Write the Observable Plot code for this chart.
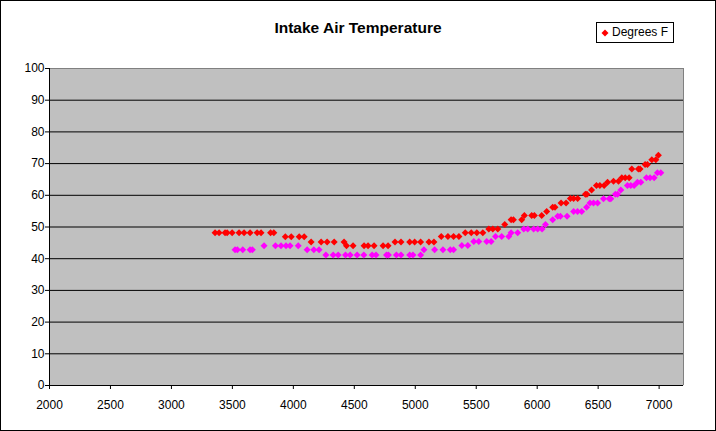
<!DOCTYPE html>
<html><head><meta charset="utf-8">
<script src="https://cdn.jsdelivr.net/npm/d3@7"></script>
<script src="https://cdn.jsdelivr.net/npm/@observablehq/plot@0.6"></script>
<style>
body{margin:0;background:#fff;}
#wrap{position:relative;width:716px;height:431px;font-family:"Liberation Sans",Arial,sans-serif;color:#000;}
#wrap svg{display:block;}
#border{position:absolute;left:0;top:0;width:714px;height:429px;border:1px solid #000;pointer-events:none;}
#title{position:absolute;left:0;width:716px;top:20px;text-align:center;font-weight:bold;font-size:15.5px;line-height:16px;}
#legend{position:absolute;left:596px;top:22px;width:76px;height:19px;border:1px solid #000;background:#fff;font-size:12px;line-height:19px;}
#legend svg{position:absolute;left:4px;top:6px;}
#legend span{position:absolute;left:15px;top:0;}
</style></head>
<body>
<div id="wrap">
  <div id="chart"></div>
  <div id="title">Intake Air Temperature</div>
  <div id="legend"><svg width="8" height="8" viewBox="-4 -4 8 8"><path d="M0,-3.5L3.5,0L0,3.5L-3.5,0Z" fill="#ff0000"/></svg><span>Degrees F</span></div>
  <div id="border"></div>
</div>
<script>
const xTicks = [2000, 2500, 3000, 3500, 4000, 4500, 5000, 5500, 6000, 6500, 7000];
const yTicks = [0, 10, 20, 30, 40, 50, 60, 70, 80, 90, 100];

const redRpm = [3358,3391,3440,3457,3498,3555,3596,3645,3703,3735,3813,3840,
  3934,3983,4048,4089,
  4146,4228,4277,4335,4416,
  4436,4490,4580,4613,4662,4736,4777,
  4834,4883,4954,4995,5044,5112,5153,
  5213,5268,5314,5358,
  5410,5459,5505,5554,
  5603,5636,5677,
  5734,
  5786,5805,5873,
  5895,5955,5977,6037,
  6078,
  6127,6146,
  6196,6237,
  6272,6299,6332,
  6395,6408,
  6446,
  6486,6514,6549,
  6577,6626,6667,
  6694,6722,6754,
  6776,6830,6844,
  6885,6904,
  6940,6973,
  6994];
const redTemp = [48.2,48.2,48.2,48.2,48.2,48.2,48.2,48.2,48.2,48.2,48.2,48.2,
  46.9,46.9,46.9,46.9,
  45.3,45.3,45.3,45.3,45.3,
  44.1,44.1,44.1,44.1,44.1,44.1,44.1,
  45.3,45.3,45.3,45.3,45.3,45.3,45.3,
  47.0,47.0,47.0,47.0,
  48.2,48.2,48.2,48.2,
  49.4,49.4,49.4,
  50.8,
  52.3,52.3,52.3,
  53.6,53.6,53.6,53.6,
  54.9,
  56.2,56.2,
  57.6,57.6,
  59.0,59.0,59.0,
  60.3,60.3,
  61.7,
  63.1,63.1,63.1,
  64.1,64.4,64.4,
  65.5,65.5,65.5,
  68.3,68.3,68.3,
  69.7,69.7,
  71.2,71.2,
  72.6];

const magRpm = [3522,3541,3585,3645,3664,
  3760,3853,3899,3940,3973,4040,
  4113,4168,4211,
  4267,4327,4368,4428,4466,4523,4578,4646,4678,4764,4780,4845,4883,4954,4981,5044,
  5071,5159,5227,5287,5314,
  5382,5431,
  5480,5521,5586,5622,
  5658,5709,5767,
  5786,5840,
  5890,5922,5971,6004,6040,
  6068,
  6127,
  6168,6190,6245,
  6299,6331,6365,
  6405,
  6433,6462,6495,
  6544,6591,6604,
  6641,6659,
  6686,
  6740,6768,6795,
  6822,6850,
  6896,6926,6959,
  6986,7014];
const magTemp = [42.8,42.8,42.8,42.8,42.8,
  44.1,44.1,44.1,44.1,44.1,44.1,
  42.8,42.8,42.8,
  41.2,41.2,41.2,41.2,41.2,41.2,41.2,41.2,41.2,41.2,41.2,41.2,41.2,41.2,41.2,41.2,
  42.8,42.8,42.8,42.8,42.8,
  44.2,44.2,
  45.4,45.4,45.4,45.4,
  47.0,47.0,47.0,
  48.2,48.2,
  49.4,49.4,49.4,49.4,49.4,
  50.8,
  52.3,
  53.4,53.4,53.4,
  54.9,54.9,54.9,
  56.2,
  57.6,57.6,57.6,
  58.9,58.9,58.9,
  60.3,60.3,
  61.7,
  63.1,63.1,63.1,
  64.1,64.1,
  65.5,65.5,65.5,
  67.1,67.1];

const redData = redRpm.map((r, i) => ({rpm: r, temp: redTemp[i]}));
const magData = magRpm.map((r, i) => ({rpm: r, temp: magTemp[i]}));

const chart = Plot.plot({
  width: 716, height: 431,
  marginLeft: 49, marginRight: 33, marginTop: 68, marginBottom: 46,
  style: {fontFamily: "'Liberation Sans', Arial, sans-serif", fontSize: "12px", color: "#000", background: "transparent", overflow: "visible"},
  x: {domain: [2000, 7200], label: null},
  y: {domain: [0, 100], label: null},
  marks: [
    Plot.frame({fill: "#c0c0c0", stroke: null}),
    Plot.ruleY(yTicks.filter(d => d > 0 && d < 100), {stroke: "#000"}),
    Plot.ruleY([100], {stroke: "#808080"}),
    Plot.ruleX([7200], {stroke: "#808080"}),
    Plot.ruleX([2000], {stroke: "#000"}),
    Plot.ruleY([0], {stroke: "#000"}),
    Plot.dot(redData, {x: "rpm", y: "temp", symbol: "diamond2", r: 3.15, fill: "#ff0000", stroke: "none"}),
    Plot.dot(magData, {x: "rpm", y: "temp", symbol: "diamond2", r: 3.15, fill: "#ff00ff", stroke: "none"}),
    Plot.axisX({ticks: xTicks, tickSize: 4, tickPadding: 11, tickFormat: d3.format("d"), label: null, stroke: "#000", strokeOpacity: 1}),
    Plot.axisY({ticks: yTicks, tickSize: 4, tickPadding: 1, tickFormat: d3.format("d"), label: null, stroke: "#000", strokeOpacity: 1})
  ]
});
document.getElementById("chart").appendChild(chart);
</script>
</body></html>
